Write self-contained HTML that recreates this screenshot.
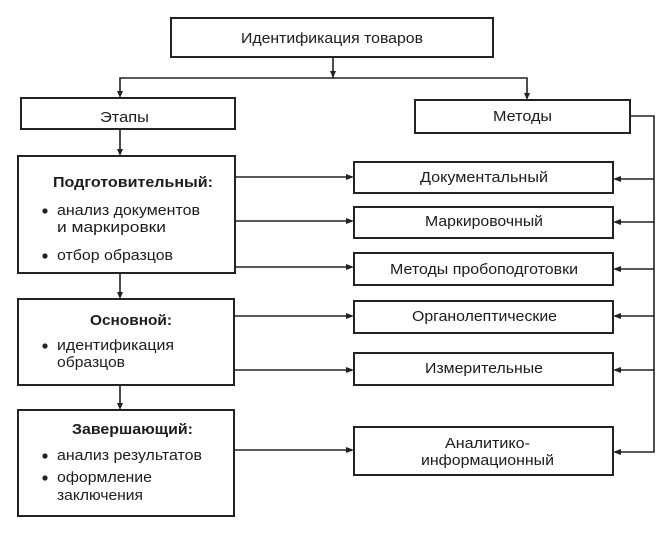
<!DOCTYPE html>
<html><head><meta charset="utf-8"><style>
html,body{margin:0;padding:0;background:#fff;}
svg{display:block;}
text{font-family:"Liberation Sans",Arial,sans-serif;font-size:15px;fill:#1c1c1c;}
.b{font-weight:bold;}
</style></head><body>
<svg width="670" height="538" viewBox="0 0 670 538" xmlns="http://www.w3.org/2000/svg">
<g fill="none" stroke="#222" stroke-width="2">
<rect x="171" y="18" width="322" height="39"/>
<rect x="21" y="98" width="214" height="31"/>
<rect x="415" y="100" width="215" height="33"/>
<rect x="18" y="156" width="217" height="117"/>
<rect x="18" y="299" width="216" height="86"/>
<rect x="18" y="410" width="216" height="106"/>
<rect x="354" y="162" width="259" height="31"/>
<rect x="354" y="207" width="259" height="31"/>
<rect x="354" y="253" width="259" height="32"/>
<rect x="354" y="301" width="259" height="32"/>
<rect x="354" y="353" width="259" height="32"/>
<rect x="354" y="427" width="259" height="48"/>
</g>
<g fill="none" stroke="#222" stroke-width="1.6">
<path d="M333 57 V78"/>
<path d="M120 96 V78 H527 V98"/>
<path d="M120 129 V154"/>
<path d="M120 273 V297"/>
<path d="M120 385 V408"/>
<path d="M630 116 H654 V452 H615"/>
<path d="M654 179 H615 M654 222 H615 M654 269 H615 M654 316 H615 M654 370 H615"/>
<path d="M235 177 H352 M235 221 H352 M235 267 H352"/>
<path d="M234 316 H352 M234 370 H352 M234 450 H352"/>
</g>
<g fill="#222">
<polygon points="330,71 336,71 333,78"/>
<polygon points="117,91 123,91 120,98"/>
<polygon points="524,93 530,93 527,100"/>
<polygon points="117,149 123,149 120,156"/>
<polygon points="117,292 123,292 120,299"/>
<polygon points="117,403 123,403 120,410"/>
<polygon points="346,174 346,180 354,177"/>
<polygon points="346,218 346,224 354,221"/>
<polygon points="346,264 346,270 354,267"/>
<polygon points="346,313 346,319 354,316"/>
<polygon points="346,367 346,373 354,370"/>
<polygon points="346,447 346,453 354,450"/>
<polygon points="621,176 621,182 613,179"/>
<polygon points="621,219 621,225 613,222"/>
<polygon points="621,266 621,272 613,269"/>
<polygon points="621,313 621,319 613,316"/>
<polygon points="621,367 621,373 613,370"/>
<polygon points="621,449 621,455 613,452"/>
<circle cx="45" cy="211" r="2.6"/>
<circle cx="45" cy="256" r="2.6"/>
<circle cx="45" cy="346" r="2.6"/>
<circle cx="45" cy="456" r="2.6"/>
<circle cx="45" cy="478" r="2.6"/>
</g>
<text x="241" y="43" textLength="182" lengthAdjust="spacingAndGlyphs">Идентификация товаров</text>
<text x="100" y="122" textLength="49" lengthAdjust="spacingAndGlyphs">Этапы</text>
<text x="493" y="121" textLength="59" lengthAdjust="spacingAndGlyphs">Методы</text>
<text x="420" y="182" textLength="128" lengthAdjust="spacingAndGlyphs">Документальный</text>
<text x="425" y="226" textLength="118" lengthAdjust="spacingAndGlyphs">Маркировочный</text>
<text x="390" y="274" textLength="188" lengthAdjust="spacingAndGlyphs">Методы пробоподготовки</text>
<text x="412" y="321" textLength="145" lengthAdjust="spacingAndGlyphs">Органолептические</text>
<text x="425" y="373" textLength="118" lengthAdjust="spacingAndGlyphs">Измерительные</text>
<text x="445" y="448" textLength="85" lengthAdjust="spacingAndGlyphs">Аналитико-</text>
<text x="421" y="465" textLength="133" lengthAdjust="spacingAndGlyphs">информационный</text>
<text class="b" x="53" y="187" textLength="160" lengthAdjust="spacingAndGlyphs">Подготовительный:</text>
<text x="57" y="215" textLength="143" lengthAdjust="spacingAndGlyphs">анализ документов</text>
<text x="57" y="232" textLength="109" lengthAdjust="spacingAndGlyphs">и маркировки</text>
<text x="57" y="260" textLength="116" lengthAdjust="spacingAndGlyphs">отбор образцов</text>
<text class="b" x="90" y="325" textLength="82" lengthAdjust="spacingAndGlyphs">Основной:</text>
<text x="57" y="350" textLength="117" lengthAdjust="spacingAndGlyphs">идентификация</text>
<text x="57" y="367" textLength="68" lengthAdjust="spacingAndGlyphs">образцов</text>
<text class="b" x="72" y="434" textLength="121" lengthAdjust="spacingAndGlyphs">Завершающий:</text>
<text x="57" y="460" textLength="145" lengthAdjust="spacingAndGlyphs">анализ результатов</text>
<text x="57" y="482" textLength="95" lengthAdjust="spacingAndGlyphs">оформление</text>
<text x="57" y="500" textLength="86" lengthAdjust="spacingAndGlyphs">заключения</text>
</svg>
</body></html>
